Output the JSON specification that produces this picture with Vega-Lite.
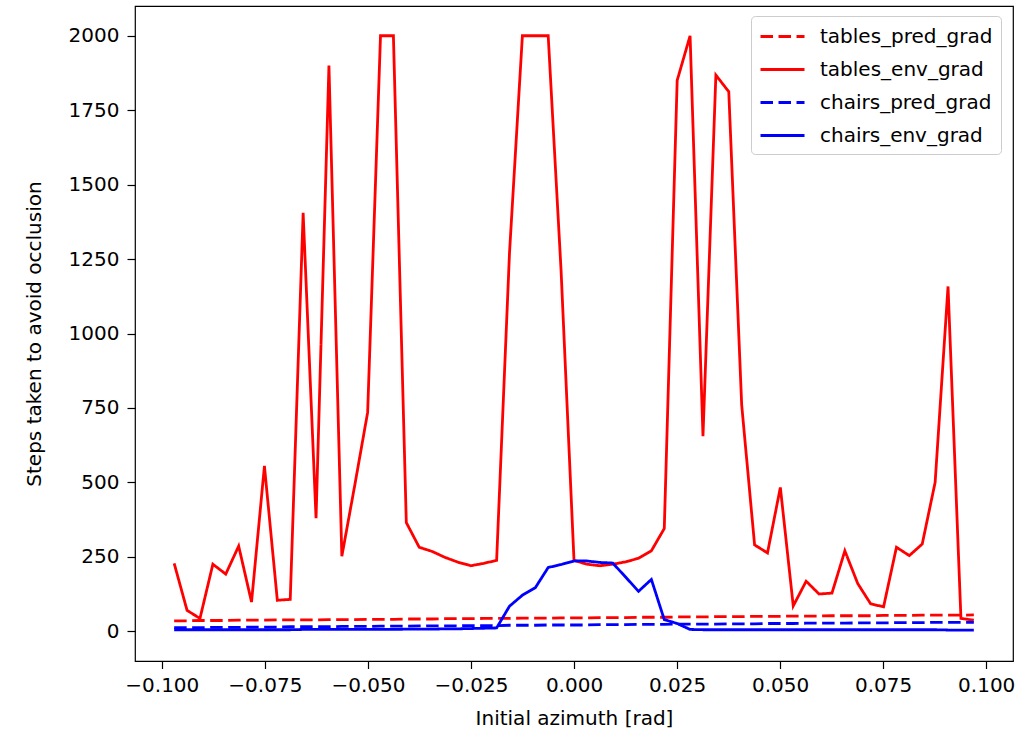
{
  "$schema": "https://vega.github.io/schema/vega-lite/v6.json",
  "width": 878,
  "height": 655,
  "autosize": {"type": "none"},
  "padding": {"left": 135, "top": 6, "right": 22, "bottom": 77},
  "background": "white",
  "config": {
    "view": {"stroke": "black", "strokeWidth": 1.2},
    "font": "DejaVu Sans",
    "axis": {"domain": false, "grid": false, "tickColor": "black", "tickWidth": 1.2, "labelColor": "black", "titleColor": "black", "labelFont": "DejaVu Sans", "titleFont": "DejaVu Sans", "labelFontSize": 20, "titleFontSize": 20, "titleFontWeight": "normal"}
  },
  "data": {"values": [
    {"x": -0.09700, "tables_pred_grad": 35, "tables_env_grad": 228, "chairs_pred_grad": 12, "chairs_env_grad": 5},
    {"x": -0.09387, "tables_pred_grad": 35, "tables_env_grad": 70, "chairs_pred_grad": 12, "chairs_env_grad": 5},
    {"x": -0.09074, "tables_pred_grad": 36, "tables_env_grad": 43, "chairs_pred_grad": 12, "chairs_env_grad": 5},
    {"x": -0.08761, "tables_pred_grad": 36, "tables_env_grad": 225, "chairs_pred_grad": 13, "chairs_env_grad": 5},
    {"x": -0.08448, "tables_pred_grad": 36, "tables_env_grad": 192, "chairs_pred_grad": 13, "chairs_env_grad": 5},
    {"x": -0.08135, "tables_pred_grad": 37, "tables_env_grad": 286, "chairs_pred_grad": 13, "chairs_env_grad": 5},
    {"x": -0.07823, "tables_pred_grad": 37, "tables_env_grad": 98, "chairs_pred_grad": 14, "chairs_env_grad": 5},
    {"x": -0.07510, "tables_pred_grad": 37, "tables_env_grad": 555, "chairs_pred_grad": 14, "chairs_env_grad": 5},
    {"x": -0.07197, "tables_pred_grad": 38, "tables_env_grad": 104, "chairs_pred_grad": 14, "chairs_env_grad": 5},
    {"x": -0.06884, "tables_pred_grad": 38, "tables_env_grad": 107, "chairs_pred_grad": 15, "chairs_env_grad": 5},
    {"x": -0.06571, "tables_pred_grad": 38, "tables_env_grad": 1405, "chairs_pred_grad": 15, "chairs_env_grad": 6},
    {"x": -0.06258, "tables_pred_grad": 38, "tables_env_grad": 380, "chairs_pred_grad": 15, "chairs_env_grad": 6},
    {"x": -0.05945, "tables_pred_grad": 39, "tables_env_grad": 1900, "chairs_pred_grad": 15, "chairs_env_grad": 6},
    {"x": -0.05632, "tables_pred_grad": 39, "tables_env_grad": 252, "chairs_pred_grad": 16, "chairs_env_grad": 6},
    {"x": -0.05319, "tables_pred_grad": 39, "tables_env_grad": 490, "chairs_pred_grad": 16, "chairs_env_grad": 6},
    {"x": -0.05006, "tables_pred_grad": 40, "tables_env_grad": 735, "chairs_pred_grad": 16, "chairs_env_grad": 6},
    {"x": -0.04694, "tables_pred_grad": 40, "tables_env_grad": 2000, "chairs_pred_grad": 17, "chairs_env_grad": 6},
    {"x": -0.04381, "tables_pred_grad": 40, "tables_env_grad": 2000, "chairs_pred_grad": 17, "chairs_env_grad": 6},
    {"x": -0.04068, "tables_pred_grad": 41, "tables_env_grad": 365, "chairs_pred_grad": 17, "chairs_env_grad": 7},
    {"x": -0.03755, "tables_pred_grad": 41, "tables_env_grad": 282, "chairs_pred_grad": 18, "chairs_env_grad": 7},
    {"x": -0.03442, "tables_pred_grad": 41, "tables_env_grad": 268, "chairs_pred_grad": 18, "chairs_env_grad": 7},
    {"x": -0.03129, "tables_pred_grad": 42, "tables_env_grad": 248, "chairs_pred_grad": 18, "chairs_env_grad": 8},
    {"x": -0.02816, "tables_pred_grad": 42, "tables_env_grad": 232, "chairs_pred_grad": 18, "chairs_env_grad": 8},
    {"x": -0.02503, "tables_pred_grad": 42, "tables_env_grad": 220, "chairs_pred_grad": 19, "chairs_env_grad": 9},
    {"x": -0.02190, "tables_pred_grad": 43, "tables_env_grad": 228, "chairs_pred_grad": 19, "chairs_env_grad": 10},
    {"x": -0.01877, "tables_pred_grad": 43, "tables_env_grad": 238, "chairs_pred_grad": 19, "chairs_env_grad": 11},
    {"x": -0.01565, "tables_pred_grad": 43, "tables_env_grad": 1270, "chairs_pred_grad": 20, "chairs_env_grad": 84},
    {"x": -0.01252, "tables_pred_grad": 44, "tables_env_grad": 2000, "chairs_pred_grad": 20, "chairs_env_grad": 121},
    {"x": -0.00939, "tables_pred_grad": 44, "tables_env_grad": 2000, "chairs_pred_grad": 20, "chairs_env_grad": 146},
    {"x": -0.00626, "tables_pred_grad": 44, "tables_env_grad": 2000, "chairs_pred_grad": 21, "chairs_env_grad": 214},
    {"x": -0.00313, "tables_pred_grad": 45, "tables_env_grad": 1210, "chairs_pred_grad": 21, "chairs_env_grad": 224},
    {"x": 0.0, "tables_pred_grad": 45, "tables_env_grad": 238, "chairs_pred_grad": 21, "chairs_env_grad": 236},
    {"x": 0.00313, "tables_pred_grad": 45, "tables_env_grad": 225, "chairs_pred_grad": 21, "chairs_env_grad": 236},
    {"x": 0.00626, "tables_pred_grad": 46, "tables_env_grad": 220, "chairs_pred_grad": 22, "chairs_env_grad": 231},
    {"x": 0.00939, "tables_pred_grad": 46, "tables_env_grad": 225, "chairs_pred_grad": 22, "chairs_env_grad": 229},
    {"x": 0.01252, "tables_pred_grad": 46, "tables_env_grad": 233, "chairs_pred_grad": 22, "chairs_env_grad": 182},
    {"x": 0.01565, "tables_pred_grad": 47, "tables_env_grad": 245, "chairs_pred_grad": 23, "chairs_env_grad": 134},
    {"x": 0.01877, "tables_pred_grad": 47, "tables_env_grad": 270, "chairs_pred_grad": 23, "chairs_env_grad": 174},
    {"x": 0.02190, "tables_pred_grad": 47, "tables_env_grad": 345, "chairs_pred_grad": 23, "chairs_env_grad": 39},
    {"x": 0.02503, "tables_pred_grad": 48, "tables_env_grad": 1850, "chairs_pred_grad": 24, "chairs_env_grad": 26},
    {"x": 0.02816, "tables_pred_grad": 48, "tables_env_grad": 2000, "chairs_pred_grad": 24, "chairs_env_grad": 6},
    {"x": 0.03129, "tables_pred_grad": 48, "tables_env_grad": 655, "chairs_pred_grad": 24, "chairs_env_grad": 5},
    {"x": 0.03442, "tables_pred_grad": 49, "tables_env_grad": 1868, "chairs_pred_grad": 24, "chairs_env_grad": 5},
    {"x": 0.03755, "tables_pred_grad": 49, "tables_env_grad": 1812, "chairs_pred_grad": 25, "chairs_env_grad": 5},
    {"x": 0.04068, "tables_pred_grad": 49, "tables_env_grad": 760, "chairs_pred_grad": 25, "chairs_env_grad": 5},
    {"x": 0.04381, "tables_pred_grad": 50, "tables_env_grad": 290, "chairs_pred_grad": 25, "chairs_env_grad": 5},
    {"x": 0.04694, "tables_pred_grad": 50, "tables_env_grad": 263, "chairs_pred_grad": 26, "chairs_env_grad": 5},
    {"x": 0.05006, "tables_pred_grad": 50, "tables_env_grad": 483, "chairs_pred_grad": 26, "chairs_env_grad": 5},
    {"x": 0.05319, "tables_pred_grad": 51, "tables_env_grad": 85, "chairs_pred_grad": 26, "chairs_env_grad": 5},
    {"x": 0.05632, "tables_pred_grad": 51, "tables_env_grad": 168, "chairs_pred_grad": 27, "chairs_env_grad": 5},
    {"x": 0.05945, "tables_pred_grad": 51, "tables_env_grad": 125, "chairs_pred_grad": 27, "chairs_env_grad": 5},
    {"x": 0.06258, "tables_pred_grad": 52, "tables_env_grad": 128, "chairs_pred_grad": 27, "chairs_env_grad": 5},
    {"x": 0.06571, "tables_pred_grad": 52, "tables_env_grad": 270, "chairs_pred_grad": 27, "chairs_env_grad": 5},
    {"x": 0.06884, "tables_pred_grad": 52, "tables_env_grad": 160, "chairs_pred_grad": 28, "chairs_env_grad": 5},
    {"x": 0.07197, "tables_pred_grad": 52, "tables_env_grad": 92, "chairs_pred_grad": 28, "chairs_env_grad": 5},
    {"x": 0.07510, "tables_pred_grad": 53, "tables_env_grad": 82, "chairs_pred_grad": 28, "chairs_env_grad": 5},
    {"x": 0.07823, "tables_pred_grad": 53, "tables_env_grad": 282, "chairs_pred_grad": 29, "chairs_env_grad": 5},
    {"x": 0.08135, "tables_pred_grad": 53, "tables_env_grad": 254, "chairs_pred_grad": 29, "chairs_env_grad": 5},
    {"x": 0.08448, "tables_pred_grad": 54, "tables_env_grad": 293, "chairs_pred_grad": 29, "chairs_env_grad": 5},
    {"x": 0.08761, "tables_pred_grad": 54, "tables_env_grad": 500, "chairs_pred_grad": 30, "chairs_env_grad": 5},
    {"x": 0.09074, "tables_pred_grad": 54, "tables_env_grad": 1158, "chairs_pred_grad": 30, "chairs_env_grad": 4},
    {"x": 0.09387, "tables_pred_grad": 54, "tables_env_grad": 43, "chairs_pred_grad": 30, "chairs_env_grad": 4},
    {"x": 0.09700, "tables_pred_grad": 55, "tables_env_grad": 37, "chairs_pred_grad": 30, "chairs_env_grad": 4}
  ]},
  "transform": [
    {"fold": ["tables_pred_grad", "tables_env_grad", "chairs_pred_grad", "chairs_env_grad"], "as": ["series", "steps"]}
  ],
  "encoding": {
    "x": {"field": "x", "type": "quantitative",
      "scale": {"domain": [-0.1065, 0.1065], "nice": false, "zero": false},
      "axis": {"title": "Initial azimuth [rad]", "values": [-0.1, -0.075, -0.05, -0.025, 0, 0.025, 0.05, 0.075, 0.1], "format": ".3f", "tickSize": 7.5, "labelPadding": 7, "titlePadding": 13}},
    "y": {"field": "steps", "type": "quantitative",
      "scale": {"domain": [-100, 2100], "nice": false, "zero": false},
      "axis": {"title": "Steps taken to avoid occlusion", "values": [0, 250, 500, 750, 1000, 1250, 1500, 1750, 2000], "format": "d", "tickSize": 8, "labelPadding": 8, "titlePadding": 24}},
    "color": {"field": "series", "type": "nominal",
      "scale": {"domain": ["tables_pred_grad", "tables_env_grad", "chairs_pred_grad", "chairs_env_grad"], "range": ["#ff0000", "#ff0000", "#0000ff", "#0000ff"]},
      "legend": {"title": null, "orient": "none", "legendX": 616, "legendY": 10, "symbolType": "M-1,0H3", "symbolSize": 484, "symbolStrokeWidth": 2.8, "labelFontSize": 20, "labelFont": "DejaVu Sans", "labelColor": "black", "labelLimit": 400, "labelOffset": 36, "rowPadding": 10, "padding": 8, "strokeColor": "#cccccc", "fillColor": "white", "cornerRadius": 4}},
    "strokeDash": {"field": "series", "type": "nominal",
      "scale": {"domain": ["tables_pred_grad", "tables_env_grad", "chairs_pred_grad", "chairs_env_grad"], "range": [[12.5, 5.5], [1, 0], [12.5, 5.5], [1, 0]]},
      "legend": {"title": null, "orient": "none", "legendX": 616, "legendY": 10, "symbolType": "M-1,0H3", "symbolSize": 484, "symbolStrokeWidth": 2.8, "labelFontSize": 20, "labelFont": "DejaVu Sans", "labelColor": "black", "labelLimit": 400, "labelOffset": 36, "rowPadding": 10, "padding": 8, "strokeColor": "#cccccc", "fillColor": "white", "cornerRadius": 4}}
  },
  "layer": [
    {"transform": [{"filter": "datum.series === 'tables_pred_grad'"}], "mark": {"type": "line", "strokeWidth": 2.8}},
    {"transform": [{"filter": "datum.series === 'tables_env_grad'"}], "mark": {"type": "line", "strokeWidth": 2.8}},
    {"transform": [{"filter": "datum.series === 'chairs_pred_grad'"}], "mark": {"type": "line", "strokeWidth": 2.8}},
    {"transform": [{"filter": "datum.series === 'chairs_env_grad'"}], "mark": {"type": "line", "strokeWidth": 2.8}}
  ]
}
